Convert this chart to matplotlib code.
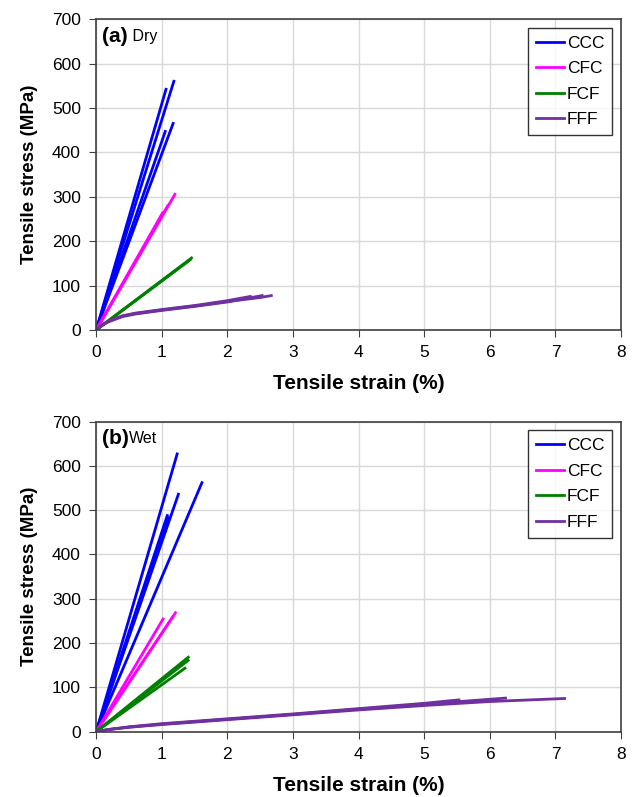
import matplotlib.pyplot as plt
from matplotlib.lines import Line2D

plt.rcParams["font.family"] = "Liberation Sans"

# specimen curves: (strain %, stress MPa)
dry_ccc = [
    ([0.0, 1.07], [0, 545]),
    ([0.0, 1.19], [0, 563]),
    ([0.0, 1.06], [0, 450]),
    ([0.0, 1.18], [0, 468]),
]
dry_cfc = [
    ([0.0, 1.21], [0, 308]),
    ([0.0, 1.02], [0, 266]),
    ([0.0, 1.10], [0, 282]),
]
dry_fcf = [
    ([0.0, 1.47], [0, 164]),
    ([0.0, 1.42], [0, 157]),
    ([0.0, 1.45], [0, 160]),
]
dry_fff = [
    ([0.0, 0.1, 0.2, 0.4, 0.6, 1.0, 1.5, 2.0, 2.5, 2.69], [0, 12, 20, 31, 37, 45, 54, 64, 73, 78]),
    ([0.0, 0.1, 0.2, 0.4, 0.6, 1.0, 1.5, 2.0, 2.55], [0, 12, 19, 30, 36, 44, 53, 63, 78]),
    ([0.0, 0.1, 0.2, 0.4, 0.6, 1.0, 1.5, 2.0, 2.37], [0, 13, 21, 32, 38, 46, 55, 66, 76]),
]

wet_ccc = [
    ([0.0, 1.24], [0, 630]),
    ([0.0, 1.62], [0, 565]),
    ([0.0, 1.26], [0, 539]),
    ([0.0, 1.09], [0, 491]),
    ([0.0, 1.11], [0, 486]),
]
wet_cfc = [
    ([0.0, 1.22], [0, 271]),
    ([0.0, 1.03], [0, 257]),
    ([0.0, 1.18], [0, 262]),
]
wet_fcf = [
    ([0.0, 1.42], [0, 170]),
    ([0.0, 1.42], [0, 163]),
    ([0.0, 1.37], [0, 145]),
]
wet_fff = [
    ([0.0, 0.2, 0.5, 1.0, 2.0, 3.0, 4.0, 5.0, 6.0, 7.16], [0, 5, 10, 16, 27, 38, 49, 59, 68, 75]),
    ([0.0, 0.2, 0.5, 1.0, 2.0, 3.0, 4.0, 5.0, 6.26], [0, 5, 10, 17, 28, 39, 51, 62, 76]),
    ([0.0, 0.2, 0.5, 1.0, 2.0, 3.0, 4.0, 5.0, 5.55], [0, 5, 11, 18, 29, 40, 52, 64, 72]),
]

names = ["CCC", "CFC", "FCF", "FFF"]
colors = ["#0000ff", "#ff00ff", "#008000", "#7030a0"]
x_ticks = [0, 1, 2, 3, 4, 5, 6, 7, 8]
y_ticks = [0, 100, 200, 300, 400, 500, 600, 700]

panels = [
    ("(a)", " Dry", [dry_ccc, dry_cfc, dry_fcf, dry_fff]),
    ("(b)", "Wet", [wet_ccc, wet_cfc, wet_fcf, wet_fff]),
]

fig = plt.figure(figsize=(6.37, 7.97), dpi=100)
ax_a = fig.add_axes([0.151, 0.586, 0.824, 0.390])
ax_b = fig.add_axes([0.151, 0.082, 0.824, 0.389])

for ax, (tag, cond, groups) in zip([ax_a, ax_b], panels):
    for curves, col in zip(groups, colors):
        for xs, ys in curves:
            ax.plot(xs, ys, color=col, linewidth=2.0, solid_capstyle="butt")

    ax.set_xlim(0, 8)
    ax.set_ylim(0, 700)
    ax.set_xticks(x_ticks)
    ax.set_yticks(y_ticks)
    ax.grid(True, color="#d9d9d9", linewidth=1.0)
    ax.set_axisbelow(True)
    ax.tick_params(labelsize=12.5, direction="out", length=5, color="#404040")
    ax.tick_params(axis="x", pad=6)
    ax.tick_params(axis="y", pad=6)
    for s in ax.spines.values():
        s.set_color("#404040")
        s.set_linewidth(1.2)

    ax.set_xlabel("Tensile strain (%)", fontsize=15, fontweight="bold", labelpad=10)
    ax.set_ylabel("Tensile stress (MPa)", fontsize=13.5, fontweight="bold", labelpad=10)

    t = ax.text(0.012, 0.975, tag, transform=ax.transAxes, fontsize=15,
                fontweight="bold", va="top", ha="left")
    ax.annotate(cond, xy=(1, 0.5), xycoords=t, fontsize=11.5,
                va="center", ha="left")

    handles = [Line2D([0], [0], color=c, linewidth=2) for c in colors]
    leg = ax.legend(handles, names, loc="upper right", fontsize=12.5,
                    frameon=True, fancybox=False, edgecolor="black",
                    handlelength=1.6, handletextpad=0.2, borderpad=0.45,
                    labelspacing=0.6, borderaxespad=0.5)
    leg.get_frame().set_linewidth(1.0)

fig.set_facecolor("white")
plt.savefig("out.png", dpi=100, facecolor="white")
